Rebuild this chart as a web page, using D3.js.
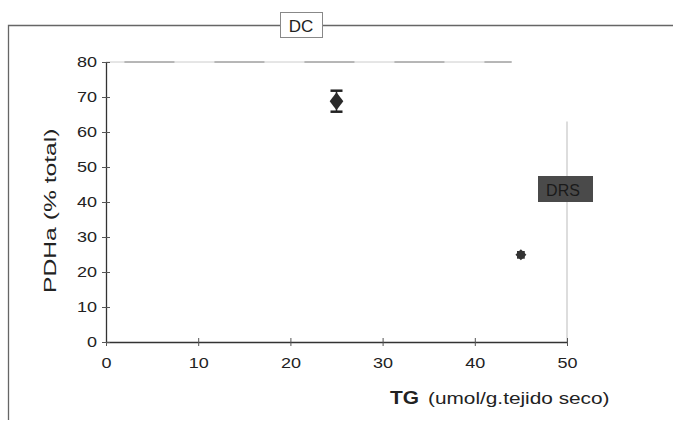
<!DOCTYPE html>
<html lang="en">
<head>
<meta charset="UTF-8">
<title>PDHa vs TG</title>
<script src="https://cdn.jsdelivr.net/npm/d3@7"></script>
<style>
  body { margin: 0; background: #fff; }
  text { font-family: "Liberation Sans", Arial, sans-serif; fill: #222; }
</style>
</head>
<body>
<svg width="673" height="423"></svg>
<script>
    // data
    const groups = ["DC", "DRS"];
    const tgValues = [25, 45];
    const pdhaValues = [68.8, 24.9];
    const pdhaErrors = [3.0, 0.8];
    const xTicks = [0, 10, 20, 30, 40, 50];
    const yTicks = [0, 10, 20, 30, 40, 50, 60, 70, 80];

    const svg = d3.select("svg");

    const x = d3.scaleLinear().domain([0, 50]).range([106, 567]);
    const y = d3.scaleLinear().domain([0, 80]).range([342, 62]);

    // the scanned text is wider than the font; stretch it along its line
    function stretch(sel, k) {
        sel.each(function() {
            const w = this.getComputedTextLength();
            d3.select(this).attr("textLength", w * k).attr("lengthAdjust", "spacingAndGlyphs");
        });
    }

    // outer frame (left + top, broken by the title box)
    svg.append("path")
        .attr("d", "M8.5,420 V25.5 H673")
        .attr("fill", "none").attr("stroke", "#666").attr("stroke-width", 1.3);

    // plot border top / right (faint)
    svg.append("line")
        .attr("x1", x(0)).attr("x2", x(44)).attr("y1", y(80)).attr("y2", y(80))
        .attr("stroke", "#ccc");
    svg.append("line")
        .attr("x1", x(2)).attr("x2", x(44)).attr("y1", y(80)).attr("y2", y(80))
        .attr("stroke", "#888").attr("stroke-dasharray", "50,40");
    svg.append("line")
        .attr("x1", x(50)).attr("x2", x(50)).attr("y1", y(63)).attr("y2", y(0))
        .attr("stroke", "#bbb");

    // axes
    const xAxis = d3.axisBottom(x).tickValues(xTicks).tickSize(0).tickPadding(15);
    const gx = svg.append("g").attr("transform", `translate(0,${y(0)})`).call(xAxis);
    gx.select(".domain").attr("stroke", "#333").attr("stroke-width", 1.3);
    gx.selectAll(".tick").append("line").attr("y1", -4).attr("y2", 4).attr("stroke", "#555");
    gx.selectAll(".tick text").attr("font-size", 15).attr("fill", "#222").call(stretch, 1.2);

    const yAxis = d3.axisLeft(y).tickValues(yTicks).tickSize(0).tickPadding(9);
    const gy = svg.append("g").attr("transform", `translate(${x(0)},0)`).call(yAxis);
    gy.select(".domain").attr("stroke", "#333").attr("stroke-width", 1.3);
    gy.selectAll(".tick").append("line").attr("x1", -4).attr("x2", 4).attr("stroke", "#555");
    gy.selectAll(".tick text").attr("font-size", 15).attr("fill", "#222").call(stretch, 1.2);

    // axis titles
    svg.append("text")
        .attr("transform", `translate(56,${y(37.5)}) rotate(-90)`)
        .attr("text-anchor", "middle").attr("font-size", 17)
        .text("PDHa (% total)")
        .call(stretch, 1.45);

    const xt1 = svg.append("text")
        .attr("x", 390).attr("y", 404).attr("font-size", 19).attr("font-weight", "bold")
        .text("TG").call(stretch, 1.1);
    svg.append("text")
        .attr("x", 428).attr("y", 404).attr("font-size", 16)
        .text("(umol/g.tejido seco)").call(stretch, 1.3);

    // title box
    svg.append("rect")
        .attr("x", 280.5).attr("y", 12.5).attr("width", 42).attr("height", 25)
        .attr("fill", "#fff").attr("stroke", "#888");
    svg.append("text")
        .attr("x", 301).attr("y", 31.5).attr("text-anchor", "middle")
        .attr("font-size", 17).text(groups[0]);

    // DRS label box
    svg.append("rect")
        .attr("x", 538).attr("y", 176).attr("width", 55).attr("height", 26)
        .attr("fill", "#4a4a4a");
    svg.append("text")
        .attr("x", 563).attr("y", 195.5).attr("text-anchor", "middle")
        .attr("font-size", 16).style("fill", "#1a1a1a").text(groups[1]);

    // error bars
    const pts = groups.map((g, i) => ({g, tg: tgValues[i], v: pdhaValues[i], e: pdhaErrors[i]}));
    const eb = svg.append("g").selectAll("g").data(pts).join("g");
    eb.append("line")
        .attr("x1", d => x(d.tg)).attr("x2", d => x(d.tg))
        .attr("y1", d => y(d.v + d.e)).attr("y2", d => y(d.v - d.e))
        .attr("stroke", "#222").attr("stroke-width", 1.5);
    eb.filter(d => d.e > 1).selectAll(".cap")
        .data(d => [d.v + d.e, d.v - d.e].map(v => ({tg: d.tg, v})))
        .join("line")
        .attr("x1", d => x(d.tg) - 6).attr("x2", d => x(d.tg) + 6)
        .attr("y1", d => y(d.v)).attr("y2", d => y(d.v))
        .attr("stroke", "#222").attr("stroke-width", 2.5);

    // markers
    svg.append("path")
        .attr("d", d3.symbol(d3.symbolDiamond, 95)())
        .attr("transform", `translate(${x(pts[0].tg)},${y(pts[0].v)}) scale(1.3,1)`)
        .attr("fill", "#2a2a2a");
    svg.append("path")
        .attr("d", d3.symbol(d3.symbolSquare, 60)())
        .attr("transform", `translate(${x(pts[1].tg)},${y(pts[1].v)}) rotate(45)`)
        .attr("fill", "#333");
    svg.append("path")
        .attr("d", d3.symbol(d3.symbolSquare, 60)())
        .attr("transform", `translate(${x(pts[1].tg)},${y(pts[1].v)})`)
        .attr("fill", "#333");
</script>
</body>
</html>
